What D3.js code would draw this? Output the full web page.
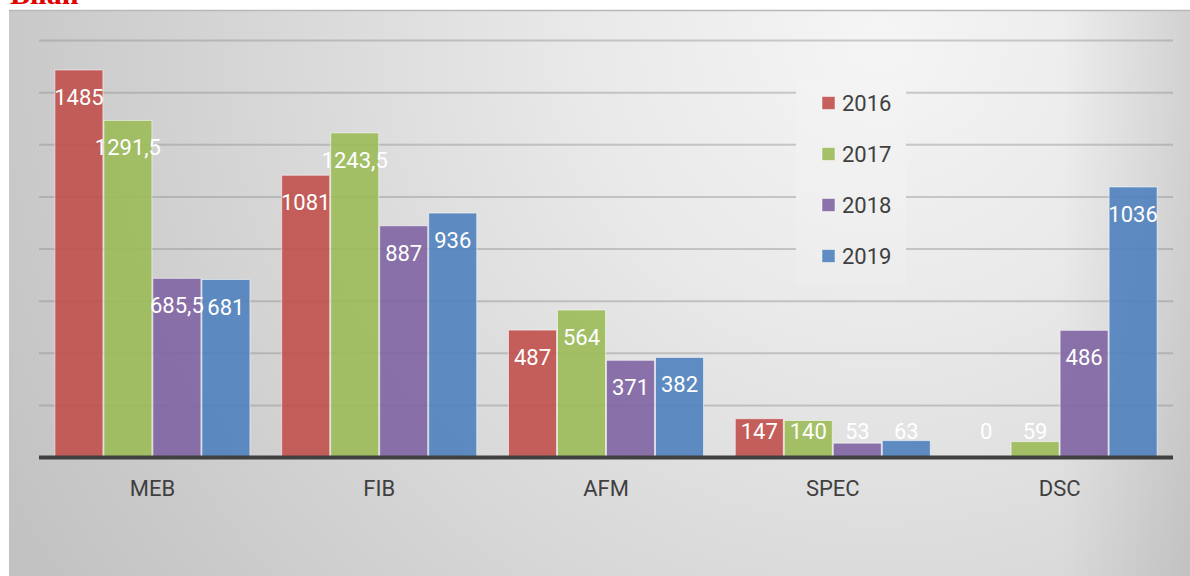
<!DOCTYPE html>
<html>
<head>
<meta charset="utf-8">
<script src="https://cdn.jsdelivr.net/npm/d3@7"></script>
<style>
  html, body { margin: 0; padding: 0; background: #ffffff; }
  svg { display: block; }
</style>
</head>
<body>
<svg id="chart" width="1190" height="576"></svg>
<script>
// Bilan par catégorie, années 2016 à 2019
const categories = ["MEB", "FIB", "AFM", "SPEC", "DSC"];
const years = ["2016", "2017", "2018", "2019"];
const values2016 = [1485, 1081, 487, 147, 0];
const values2017 = [1291.5, 1243.5, 564, 140, 59];
const values2018 = [685.5, 887, 371, 53, 486];
const values2019 = [681, 936, 382, 63, 1036];
const gridTicks = [200, 400, 600, 800, 1000, 1200, 1400, 1600];
const colors = ["#c0504d", "#9bbb59", "#8064a2", "#4f81bd"];

const series = [values2016, values2017, values2018, values2019];

const W = 1190, H = 576;
const plot = { left: 39, right: 1173, top: 40, bottom: 457 };
const font = "Roboto, 'Noto Sans', sans-serif";

const svg = d3.select("#chart");
const defs = svg.append("defs");

// Background: light focus near the upper right, darkening outward
const bg = defs.append("radialGradient")
  .attr("id", "bgGrad")
  .attr("gradientUnits", "userSpaceOnUse")
  .attr("cx", 880).attr("cy", 30).attr("r", 1000)
  .attr("fx", 880).attr("fy", 30);
[[0, "#f5f5f5"], [0.3, "#e9e9e9"], [0.6, "#d8d8d8"], [0.85, "#cacaca"], [1, "#c2c2c2"]]
  .forEach(([o, c]) => bg.append("stop").attr("offset", o).attr("stop-color", c));

const edge = defs.append("linearGradient")
  .attr("id", "edgeGrad")
  .attr("gradientUnits", "userSpaceOnUse")
  .attr("x1", 1060).attr("y1", 0).attr("x2", 1190).attr("y2", 0);
edge.append("stop").attr("offset", 0).attr("stop-color", "#000").attr("stop-opacity", 0);
edge.append("stop").attr("offset", 1).attr("stop-color", "#000").attr("stop-opacity", 0.1);

// Title, running off the top of the page
svg.append("text")
  .attr("x", 10).attr("y", 4)
  .attr("font-family", "'Liberation Serif', serif")
  .attr("font-weight", "bold")
  .attr("font-size", 30)
  .attr("fill", "#e00000")
  .text("Bilan");

// Panel
svg.append("rect").attr("x", 9).attr("y", 10).attr("width", W - 9).attr("height", H - 10)
  .attr("fill", "url(#bgGrad)");
svg.append("rect").attr("x", 9).attr("y", 10).attr("width", W - 9).attr("height", H - 10)
  .attr("fill", "url(#edgeGrad)");
svg.append("line").attr("x1", 9).attr("x2", W).attr("y1", 10.5).attr("y2", 10.5)
  .attr("stroke", "#b8b8b8").attr("stroke-width", 1.5);

// Scales
const x0 = d3.scaleBand().domain(categories).range([plot.left, plot.right]).padding(0);
const x1 = d3.scaleBand().domain(years).range([0, x0.bandwidth()]).paddingInner(0).paddingOuter(0.314);
const y = d3.scaleLinear().domain([0, 1600]).range([plot.bottom, plot.top]);

// Gridlines
const yAxis = d3.axisLeft(y).tickValues(gridTicks).tickSize(-(plot.right - plot.left)).tickFormat("");
const gGrid = svg.append("g").attr("transform", `translate(${plot.left},0)`).call(yAxis);
gGrid.select(".domain").remove();
gGrid.selectAll(".tick line").attr("stroke", "#8c8c8c").attr("stroke-opacity", 0.42).attr("stroke-width", 2);

// Bars
const fmt = d3.formatLocale({ decimal: ",", thousands: "", grouping: [3], currency: ["", " €"] }).format("~f");
const rows = [];
categories.forEach((c, i) => years.forEach((yr, j) => rows.push({ cat: c, year: yr, value: series[j][i], color: colors[j] })));

svg.append("g").selectAll("rect").data(rows.filter(d => d.value > 0)).join("rect")
  .attr("x", d => x0(d.cat) + x1(d.year) + 0.5)
  .attr("y", d => y(d.value))
  .attr("width", x1.bandwidth() - 1)
  .attr("height", d => y(0) - y(d.value))
  .attr("fill", d => d.color)
  .attr("fill-opacity", 0.9)
  .attr("stroke", "#ffffff")
  .attr("stroke-opacity", 0.55)
  .attr("stroke-width", 1);

// Baseline
svg.append("line").attr("x1", plot.left).attr("x2", plot.right)
  .attr("y1", plot.bottom + 0.5).attr("y2", plot.bottom + 0.5)
  .attr("stroke", "#404040").attr("stroke-width", 4);

// Value labels (inside end, kept above the baseline)
svg.append("g").selectAll("text").data(rows).join("text")
  .attr("x", d => x0(d.cat) + x1(d.year) + x1.bandwidth() / 2)
  .attr("y", d => Math.min(y(d.value) + 35, y(0) - 18))
  .attr("text-anchor", "middle")
  .attr("font-family", font)
  .attr("font-weight", 400)
  .attr("font-size", 22)
  .attr("fill", "#ffffff")
  .text(d => fmt(d.value));

// Category axis
const xAxis = d3.axisBottom(x0).tickSize(0).tickPadding(0);
const gX = svg.append("g").attr("transform", `translate(0,${plot.bottom})`).call(xAxis);
gX.select(".domain").remove();
gX.selectAll("text")
  .attr("y", 39).attr("dy", 0)
  .attr("font-family", font)
  .attr("font-size", 22)
  .attr("fill", "#404040");

// Legend
const legend = svg.append("g");
legend.append("rect").attr("x", 796).attr("y", 79).attr("width", 110).attr("height", 206)
  .attr("fill", "url(#bgGrad)");
legend.append("rect").attr("x", 796).attr("y", 79).attr("width", 110).attr("height", 206)
  .attr("fill", "#ffffff").attr("fill-opacity", 0.12);
const ly = d3.scalePoint().domain(years).range([103, 256]);
const items = legend.selectAll("g.item").data(years).join("g").attr("class", "item")
  .attr("transform", d => `translate(822,${ly(d)})`);
items.append("rect").attr("x", 0).attr("y", -6.5).attr("width", 13).attr("height", 13)
  .attr("fill", (d, i) => colors[i]).attr("fill-opacity", 0.9)
  .attr("stroke", "#ffffff").attr("stroke-opacity", 0.5);
items.append("text").attr("x", 20).attr("y", 8)
  .attr("font-family", font).attr("font-size", 22).attr("fill", "#404040")
  .text(d => d);
</script>
</body>
</html>
